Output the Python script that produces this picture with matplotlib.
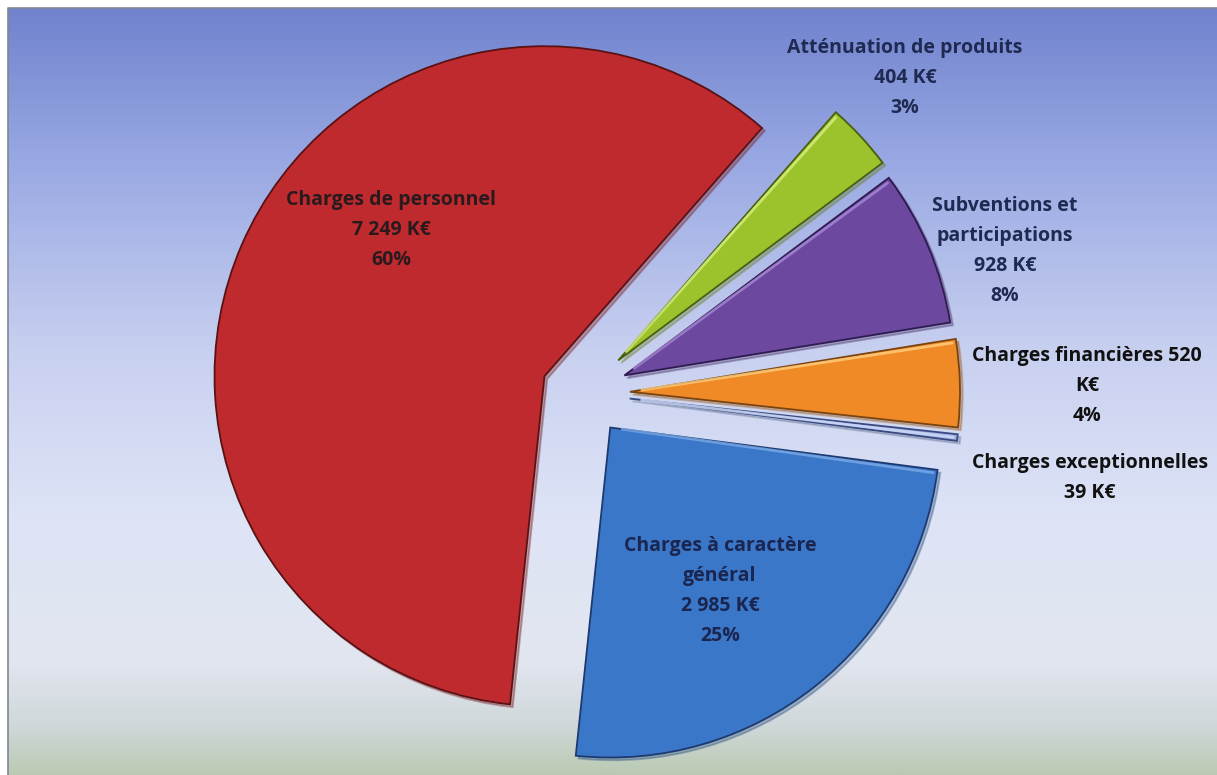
import numpy as np
import matplotlib
matplotlib.use("Agg")
import matplotlib.pyplot as plt

# ---- data ----
categories = ["Charges de personnel", "Atténuation de produits",
              "Subventions et participations", "Charges financières",
              "Charges exceptionnelles", "Charges à caractère général"]
values_keur = [7249, 404, 928, 520, 39, 2985]
label_texts = ["Charges de personnel\n7 249 K€\n60%",
               "Atténuation de produits\n404 K€\n3%",
               "Subventions et\nparticipations\n928 K€\n8%",
               "Charges financières 520\nK€\n4%",
               "Charges exceptionnelles\n39 K€",
               "Charges à caractère\ngénéral\n2 985 K€\n25%"]

# ---- style ----
colors = ["#BE2A2E", "#9CC22C", "#6C489E", "#F08A26", "#9AAEE0", "#3B77C9"]
edge_colors = ["#5a1214", "#4a6010", "#2e1c50", "#7a4410", "#3a4a80", "#1c3a70"]
highlight_colors = [None, "#d8f080", "#a88ad8", "#ffd080", "#d0dcf8", "#7aaae8"]
explode_px = [42, 48, 45, 47, 47, 44]
W, H = 1217, 775
R = 330
cx, cy = 583, 393  # pixel coords (y down)

fig = plt.figure(figsize=(W / 100, H / 100), dpi=100)
fig.patch.set_facecolor("white")
ax = fig.add_axes([0, 0, 1, 1])

# background gradient (pixel y from top)
stops_y = [8, 150, 350, 520, 660, 725, 775]
stops_c = [(112, 130, 205), (150, 166, 226), (200, 208, 240), (222, 228, 246),
           (226, 230, 240), (208, 216, 218), (186, 202, 178)]
ys = np.arange(8, 776)
grad = np.zeros((len(ys), 1, 3))
for k in range(3):
    grad[:, 0, k] = np.interp(ys, stops_y, [c[k] / 255 for c in stops_c])
ax.imshow(grad, extent=(8, W, 0, H - 8), aspect="auto", origin="upper",
          zorder=0, interpolation="bilinear")
ax.plot([8, 8, W], [0, H - 8, H - 8], color="#808890", lw=1.2, zorder=1)

wedges, _ = ax.pie(values_keur, colors=colors, startangle=264, counterclock=False,
                   explode=explode_px, radius=R,
                   center=(cx, H - cy), frame=True,
                   wedgeprops=dict(linewidth=1.3),
                   shadow=dict(ox=2, oy=-2, shade=0.35, alpha=0.35))
for w, ec, hc in zip(wedges, edge_colors, highlight_colors):
    w.set_edgecolor(ec)
    w.set_zorder(3)
    if hc is None:
        continue
    # bevel highlight along the upper straight edge of each wedge
    x0, y0 = w.center
    t = np.deg2rad(w.theta2 - 0.6)
    ax.plot([x0 + 12 * np.cos(t), x0 + (w.r - 4) * np.cos(t)],
            [y0 + 12 * np.sin(t), y0 + (w.r - 4) * np.sin(t)],
            color=hc, lw=2.0, alpha=0.8, solid_capstyle="round", zorder=4)
ax.set_xlim(0, W)
ax.set_ylim(0, H)
ax.set_aspect("auto")
ax.axis("off")

font = ["Open Sans", "DejaVu Sans"]
label_pos = [(391, 230), (905, 78), (1005, 251), (1087, 386), (1090, 478), (720, 591)]
label_col = ["#2a1a1e", "#1f2a52", "#1f2a52", "#111111", "#111111", "#1a2550"]
for txt, (x, y), c in zip(label_texts, label_pos, label_col):
    ax.text(x, H - y, txt, ha="center", va="center", multialignment="center",
            fontsize=14, fontweight="bold", family=font, color=c,
            linespacing=1.68, zorder=5)

fig.savefig("out.png", dpi=100)
